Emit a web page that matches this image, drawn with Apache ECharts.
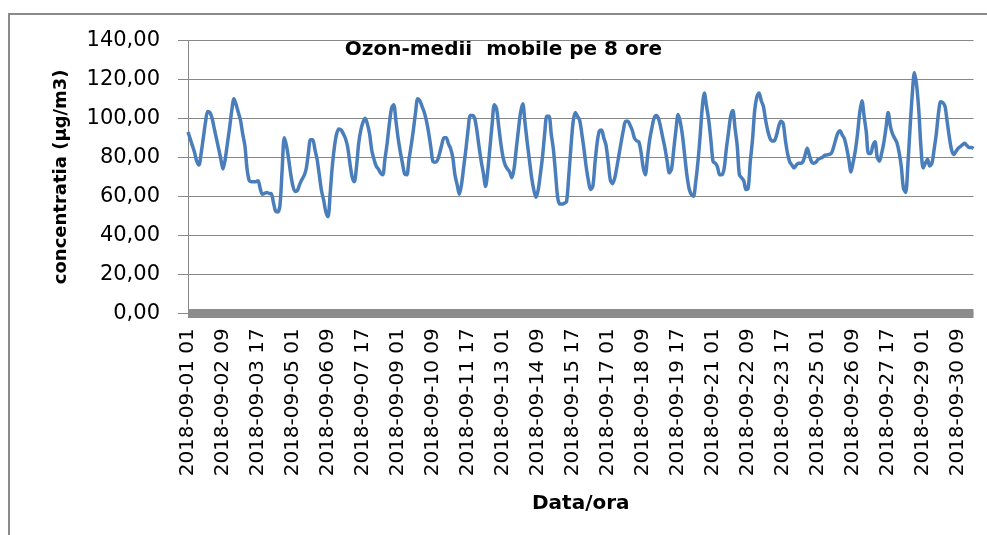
<!DOCTYPE html>
<html>
<head>
<meta charset="utf-8">
<title>Ozon-medii mobile pe 8 ore</title>
<script src="https://cdn.jsdelivr.net/npm/echarts@6/dist/echarts.min.js"></script>
<style>
  html, body { margin: 0; padding: 0; background: #fff; }
  #chart { width: 987px; height: 535px; }
</style>
</head>
<body>
<div id="chart"></div>
<script>
// 8-hour moving average of ozone, one value every 2 hours, from 2018-09-01 01 to 2018-09-30 23
const startDay = 1
const startHour = 1
const stepHours = 2

const ozone = [
  93, 89.5, 86, 82.5, 78, 76, 82, 90, 98, 103.5, 103, 100,
  94.8, 89.6, 84.5, 79, 74, 79, 87, 95, 104, 110, 107, 103,
  99, 92, 86, 74, 68, 67.5, 67.5, 67.5, 68, 64, 61, 61.5,
  62, 61.5, 61.5, 57, 52.5, 52, 55, 73, 90, 86, 79, 71,
  65, 62.5, 63, 66, 68.5, 70.5, 74, 82, 89, 89, 84, 79,
  71, 63, 58, 52, 49.5, 62, 76, 86, 92.3, 94.5, 94, 92,
  89.5, 85, 77, 70, 67.5, 75, 87, 94, 98, 100, 97, 92,
  83.5, 79, 75.5, 74, 72, 71, 79, 87, 97, 105, 107, 99,
  90, 83, 77, 71.5, 71, 79, 86, 94, 103, 110, 109, 106,
  103, 98.5, 92.5, 85, 77.7, 77.5, 78.5, 82, 86.5, 90, 90, 87,
  84.5, 80, 71, 66, 61, 66, 75, 84, 94, 101.5, 101.5, 100,
  94, 85.5, 78, 71.8, 65, 73, 85, 97, 107, 105, 96, 87,
  80, 76, 74, 72.5, 69.5, 74, 84, 94, 103, 107.5, 98, 88,
  79, 70, 63.5, 59.5, 63, 71, 80, 92, 101, 101, 92, 84,
  71.5, 59, 56, 56, 56.5, 57.2, 70, 85, 98, 103, 101, 99,
  92, 84, 75, 68, 63.5, 65, 77, 87.5, 93.5, 94, 90, 86.5,
  78, 68.5, 66.5, 69.2, 75, 81.5, 88, 94, 98.5, 98.5, 96.6, 94,
  90, 88.5, 88, 83, 75, 71, 80, 89, 95, 100, 101.5, 100,
  95.5, 90, 84.6, 78, 72, 74, 84, 94, 102, 98, 91, 81,
  71, 64, 61, 60, 67, 77, 90, 105, 113, 106, 99, 88.5,
  77.7, 77, 75, 71, 71, 74, 84, 92.5, 101, 104, 95, 86,
  71, 69.5, 68, 63.5, 64, 78, 89, 104, 111, 113, 109, 106,
  99, 93.5, 89.7, 88.3, 88.5, 91.4, 96, 98.5, 97.4, 89, 82, 77.7,
  76, 74.5, 76, 77, 77, 77.7, 81, 84.6, 81, 77.7, 77, 77.5,
  79, 79.5, 80, 81, 81.2, 81.5, 82, 85, 89, 92.5, 93.6, 91.5,
  89.5, 85, 79, 72.5, 77.5, 83.5, 92, 103, 109, 101, 93, 82,
  82, 86, 88, 80, 78, 82, 87.5, 95, 103, 96, 92, 89.7,
  87.5, 82.5, 75.2, 64, 62, 76, 95, 112, 123.5, 117, 104, 85,
  74.5, 77, 79, 75.5, 77, 84, 92, 102.6, 108.5, 108, 106, 98,
  90, 83.7, 81.5, 83, 84.6, 85.5, 86.5, 87.2, 86, 85, 85, 84.5
]

const yMin = 0
const yMax = 140
const yStep = 20

const pad = n => (n < 10 ? '0' : '') + n
const categories = ozone.map((v, i) => {
  const h = startHour + i * stepHours
  return '2018-09-' + pad(startDay + Math.floor(h / 24)) + ' ' + pad(h % 24)
})

const chart = echarts.init(document.getElementById('chart'))
const gray = '#878787'

const option = {
  animation: false,
  backgroundColor: '#fff',
  grid: {
    left: 188,
    right: 13.5,
    top: 40.3,
    bottom: 221.7
  },
  graphic: [
    {
      type: 'rect',
      shape: { x: 9, y: 14, width: 990, height: 540 },
      style: { fill: 'none', stroke: '#8a8a8a', lineWidth: 2 },
      silent: true
    },
    {
      type: 'text',
      x: 503.5,
      y: 49.5,
      style: {
        text: 'Ozon-medii  mobile pe 8 ore',
        fontFamily: 'DejaVu Sans',
        fontWeight: 'bold',
        fontSize: 20,
        fill: '#000',
        align: 'center',
        verticalAlign: 'middle'
      }
    }
  ],
  xAxis: {
    type: 'category',
    data: categories,
    boundaryGap: false,
    offset: 4,
    name: 'Data/ora',
    nameLocation: 'middle',
    nameGap: 176,
    nameTextStyle: {
      fontFamily: 'DejaVu Sans',
      fontWeight: 'bold',
      fontSize: 20,
      color: '#000'
    },
    axisLine: { lineStyle: { color: '#8c8c8c', width: 9, cap: 'butt' } },
    axisTick: { show: false },
    splitLine: { show: false },
    axisLabel: {
      rotate: 90,
      interval: 15,
      margin: 11,
      fontFamily: 'DejaVu Sans',
      fontSize: 20,
      color: '#000'
    }
  },
  yAxis: {
    type: 'value',
    min: yMin,
    max: yMax,
    interval: yStep,
    name: 'concentratia (µg/m3)',
    nameLocation: 'middle',
    nameGap: 118,
    nameTextStyle: {
      fontFamily: 'DejaVu Sans',
      fontWeight: 'bold',
      fontSize: 18,
      color: '#000'
    },
    axisLine: { show: true, lineStyle: { color: gray, width: 1 } },
    axisTick: { show: true, length: 10, lineStyle: { color: gray } },
    splitLine: { lineStyle: { color: gray, width: 1 } },
    axisLabel: {
      margin: 28,
      fontFamily: 'DejaVu Sans',
      fontSize: 21,
      color: '#000',
      formatter: v => v.toFixed(2).replace('.', ',')
    }
  },
  series: [
    {
      name: 'Ozon',
      type: 'line',
      data: ozone,
      showSymbol: false,
      smooth: 0.3,
      lineStyle: { color: '#4a7ebb', width: 3.5 },
      itemStyle: { color: '#4a7ebb' }
    }
  ]
}

chart.setOption(option)
</script>
</body>
</html>
